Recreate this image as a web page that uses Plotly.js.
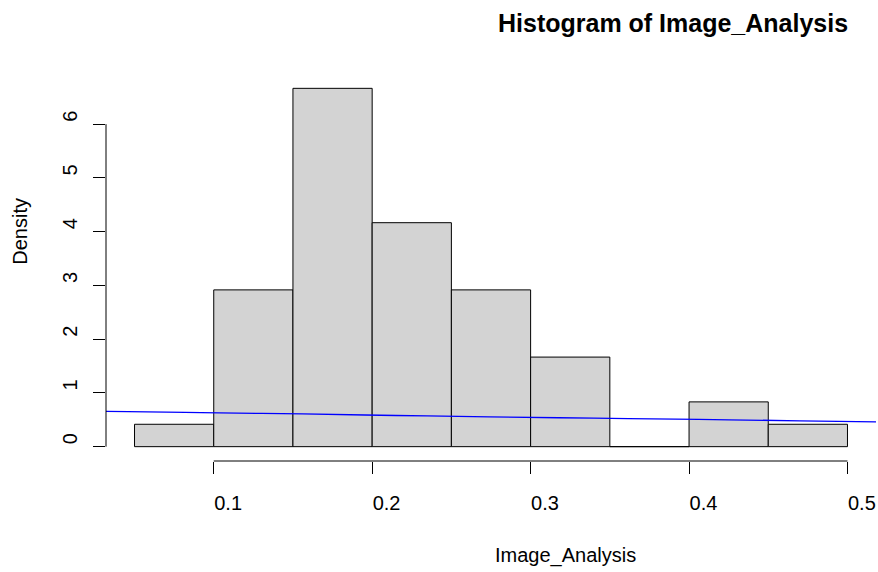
<!DOCTYPE html>
<html>
<head>
<meta charset="utf-8">
<script src="https://cdn.plot.ly/plotly-3.0.1.min.js"></script>
<style>html,body{margin:0;padding:0;background:#fff}#chart{width:878px;height:572px}</style>
</head>
<body>
<div id="chart"></div>
<script>
// Histogram bins (density scale)
const binStarts = [0.05, 0.10, 0.15, 0.20, 0.25, 0.30, 0.35, 0.40, 0.45];
const binWidth = 0.05;
const densities = [0.4167, 2.9167, 6.6667, 4.1667, 2.9167, 1.6667, 0, 0.8333, 0.4167];
// Blue curve
const curveX = [0.032, 0.046, 0.092, 0.156, 0.215, 0.274, 0.34, 0.406, 0.47, 0.518];
const curveY = [0.655, 0.652, 0.633, 0.609, 0.58, 0.556, 0.53, 0.508, 0.481, 0.462];
// Axis ticks
const xTicks = [0.1, 0.2, 0.3, 0.4, 0.5];
const xTickText = ['0.1', '0.2', '0.3', '0.4', '0.5'];
const yTicks = [0, 1, 2, 3, 4, 5, 6];
const yTickText = ['0', '1', '2', '3', '4', '5', '6'];

const FONT = 'Liberation Sans, Arial, Helvetica, sans-serif';
const binCenters = binStarts.map(s => s + binWidth / 2);

const traces = [
  {
    type: 'bar', x: binCenters, y: densities, width: binWidth,
    marker: {color: '#D3D3D3', line: {color: '#000000', width: 1}},
    hoverinfo: 'skip', showlegend: false
  },
  {
    type: 'scatter', mode: 'lines', x: curveX, y: curveY,
    line: {color: '#0000FF', width: 1.3, shape: 'spline'},
    hoverinfo: 'skip', showlegend: false, cliponaxis: false
  }
];

const layout = {
  width: 878, height: 572,
  margin: {l: 106, r: 2, t: 74, b: 111, pad: 0},
  paper_bgcolor: '#ffffff', plot_bgcolor: '#ffffff',
  font: {family: FONT, size: 20, color: '#000000'},
  bargap: 0,
  showlegend: false,
  title: {
    text: '<b>Histogram of Image_Analysis</b>',
    font: {family: FONT, size: 25, color: '#000000'},
    xref: 'container', yref: 'container',
    x: 498 / 878, xanchor: 'left',
    y: 1 - 23 / 572, yanchor: 'middle'
  },
  xaxis: {
    range: [0.032, 0.518], autorange: false,
    showgrid: false, zeroline: false, showline: false,
    tickmode: 'array', tickvals: xTicks, ticktext: xTickText,
    ticks: 'outside', ticklen: 12, tickwidth: 1, tickcolor: '#000000',
    ticklabelposition: 'outside right',
    ticklabelstandoff: 24,
    tickfont: {family: FONT, size: 20, color: '#000000'}
  },
  yaxis: {
    range: [-0.2667, 6.9333], autorange: false,
    showgrid: false, zeroline: false, showline: false,
    tickmode: 'array', tickvals: yTicks,
    ticktext: yTickText.map(t => '\u2002' + t),
    ticks: 'outside', ticklen: 12, tickwidth: 1, tickcolor: '#000000',
    tickangle: -90,
    ticklabelstandoff: 8,
    tickfont: {family: FONT, size: 20, color: '#000000'}
  },
  shapes: [
    {type: 'line', xref: 'x', yref: 'paper', x0: xTicks[0], x1: xTicks[xTicks.length - 1], y0: 0, y1: 0,
     line: {color: '#000000', width: 1}},
    {type: 'line', xref: 'paper', yref: 'y', x0: 0, x1: 0, y0: yTicks[0], y1: yTicks[yTicks.length - 1],
     line: {color: '#000000', width: 1}}
  ],
  annotations: [
    {text: 'Image_Analysis', xref: 'paper', yref: 'paper', x: (493 - 106) / 770, y: (461 - 555.5) / 387,
     xanchor: 'left', yanchor: 'middle', showarrow: false, font: {family: FONT, size: 20, color: '#000000'}},
    {text: 'Density', xref: 'paper', yref: 'paper', x: (20 - 106) / 770, y: (461 - 231.7) / 387,
     xanchor: 'center', yanchor: 'middle', textangle: -90, showarrow: false,
     font: {family: FONT, size: 20, color: '#000000'}}
  ]
};

Plotly.newPlot('chart', traces, layout, {displayModeBar: false, staticPlot: true});
</script>
</body>
</html>
